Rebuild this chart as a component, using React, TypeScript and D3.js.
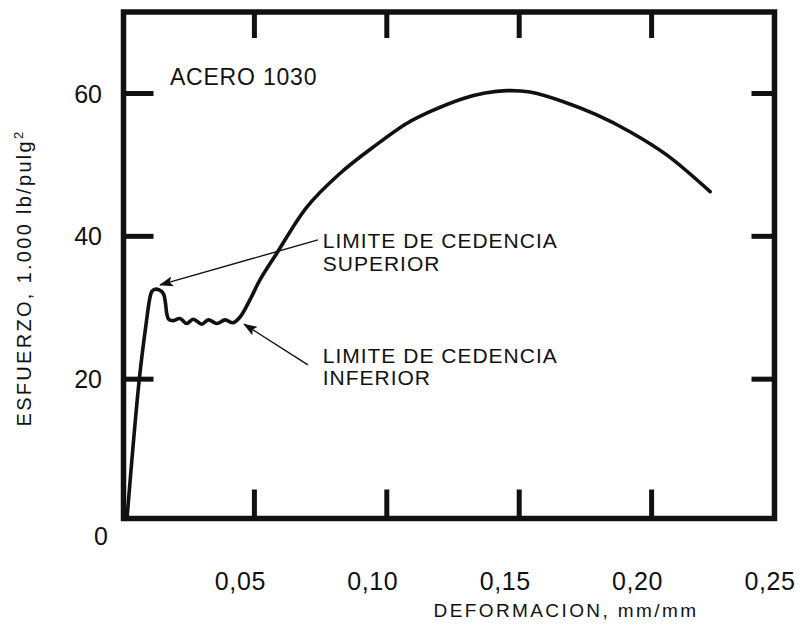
import React from 'react';
import * as d3 from 'd3';

// ---- data ----
const strain = [0.0019, 0.0065, 0.0093, 0.0106, 0.0113, 0.0125, 0.014, 0.0156, 0.0164, 0.0169, 0.0177, 0.0193,
  0.0219, 0.0244, 0.0269, 0.0301, 0.0326, 0.0358, 0.0389, 0.0419, 0.0446, 0.0483, 0.0521, 0.0584, 0.0698,
  0.0823, 0.0949, 0.1075, 0.1163, 0.1289, 0.1371, 0.1453, 0.1541, 0.1667, 0.1793, 0.1918, 0.2057, 0.2221];
const stress = [0.5, 19.9, 28.3, 31.5, 32.3, 32.6, 32.5, 32.0, 30.7, 29.2, 28.35, 28.2,
  28.5, 27.8, 28.4, 27.7, 28.3, 27.8, 28.3, 27.9, 28.7, 31.1, 33.9, 37.6, 44.1,
  48.8, 52.5, 55.8, 57.45, 59.3, 60.07, 60.4, 60.2, 58.85, 57.0, 54.65, 51.4, 46.25];

const xTicks = [0.05, 0.10, 0.15, 0.20, 0.25];
const xTickLabels = ['0,05', '0,10', '0,15', '0,20', '0,25'];
const yTicks = [0, 20, 40, 60];
const yTickLabels = ['0', '20', '40', '60'];

const chartTitle = 'ACERO 1030';
const xTitle = 'DEFORMACION, mm/mm';
const yTitle = 'ESFUERZO, 1.000 lb/pulg';
const upperLabel = ['LIMITE DE CEDENCIA', 'SUPERIOR'];
const lowerLabel = ['LIMITE DE CEDENCIA', 'INFERIOR'];

// annotation anchors in data units: [fromX, fromY, tipX, tipY]
const upperArrow = [0.0740, 39.5, 0.01435, 33.2];
const lowerArrow = [0.0702, 22.0, 0.0461, 27.7];

export default function App() {
  const W = 802, H = 624;
  const x = d3.scaleLinear().domain([0, 0.25]).range([122, 784]);
  const y = d3.scaleLinear().domain([0, 60]).range([522, 93.5]);

  const frame = { l: 123.5, r: 774.5, t: 12, b: 518.5 };
  const tickLen = 27;
  const ink = '#111';
  const font = '"Liberation Sans", Arial, Helvetica, sans-serif';

  const pts: [number, number][] = strain.map((s, i) => [s, stress[i]]);
  const line = d3.line<[number, number]>()
    .x(d => x(d[0]))
    .y(d => y(d[1]))
    .curve(d3.curveCatmullRom.alpha(0.5));

  const innerX = xTicks.filter(v => x(v) < frame.r - 10);
  const innerY = yTicks.filter(v => v > 0);

  const arrow = (a: number[], key: string) => (
    <line key={key} x1={x(a[0])} y1={y(a[1])} x2={x(a[2])} y2={y(a[3])}
      stroke={ink} strokeWidth={1.4} markerEnd="url(#head)" />
  );

  return (
    <svg width={W} height={H} style={{ position: 'absolute', left: 0, top: 0, background: '#fff' }}
      fontFamily={font}>
      <defs>
        <marker id="head" markerUnits="userSpaceOnUse" markerWidth={14} markerHeight={10}
          refX={13} refY={5} orient="auto">
          <path d="M0,0 L14,5 L0,10 L3,5 Z" fill={ink} />
        </marker>
      </defs>
      <rect x={0} y={0} width={W} height={H} fill="#fff" />

      {/* ticks */}
      {innerX.map(v => (
        <g key={'xt' + v}>
          <line x1={x(v)} x2={x(v)} y1={frame.b} y2={frame.b - tickLen - 2} stroke={ink} strokeWidth={5} />
          <line x1={x(v)} x2={x(v)} y1={frame.t} y2={frame.t + tickLen - 1} stroke={ink} strokeWidth={5} />
        </g>
      ))}
      {innerY.map(v => (
        <g key={'yt' + v}>
          <line x1={frame.l} x2={frame.l + tickLen + 3} y1={y(v)} y2={y(v)} stroke={ink} strokeWidth={5} />
          <line x1={frame.r} x2={frame.r - tickLen + 4} y1={y(v)} y2={y(v)} stroke={ink} strokeWidth={5} />
        </g>
      ))}

      {/* frame */}
      <rect x={frame.l} y={frame.t} width={frame.r - frame.l} height={frame.b - frame.t}
        fill="none" stroke={ink} strokeWidth={5.5} />

      {/* curve */}
      <path d={line(pts) || ''} fill="none" stroke={ink} strokeWidth={3.6}
        strokeLinejoin="round" strokeLinecap="round" />

      {/* tick labels */}
      {xTicks.map((v, i) => (
        <text key={'xl' + v} x={x(v) - 14} y={590} textAnchor="middle" fontSize={25}
          letterSpacing={0.6} fill={ink}>{xTickLabels[i]}</text>
      ))}
      {yTicks.map((v, i) => (
        v === 0
          ? <text key={'yl' + v} x={108} y={y(v) + 23} textAnchor="end" fontSize={25} fill={ink}>{yTickLabels[i]}</text>
          : <text key={'yl' + v} x={102} y={y(v) + 9} textAnchor="end" fontSize={25} fill={ink}>{yTickLabels[i]}</text>
      ))}

      {/* titles */}
      <text x={566} y={617} textAnchor="middle" fontSize={19} letterSpacing={2.4} fill={ink}>{xTitle}</text>
      <text transform="translate(31,278) rotate(-90)" textAnchor="middle" fontSize={20} letterSpacing={2.3} fill={ink}>
        {yTitle}<tspan dy={-8} fontSize={13}>2</tspan>
      </text>
      <text x={x(0.0181)} y={y(61.2)} fontSize={23} letterSpacing={0.8} fill={ink}>{chartTitle}</text>

      {/* annotations */}
      {arrow(upperArrow, 'ua')}
      {arrow(lowerArrow, 'la')}
      <text x={x(0.0758)} y={y(38.4)} fontSize={21} letterSpacing={1} fill={ink}>
        <tspan x={x(0.0758)}>{upperLabel[0]}</tspan>
        <tspan x={x(0.0758)} dy={23}>{upperLabel[1]}</tspan>
      </text>
      <text x={x(0.0758)} y={y(22.3)} fontSize={21} letterSpacing={1} fill={ink}>
        <tspan x={x(0.0758)}>{lowerLabel[0]}</tspan>
        <tspan x={x(0.0758)} dy={22.5}>{lowerLabel[1]}</tspan>
      </text>
    </svg>
  );
}
